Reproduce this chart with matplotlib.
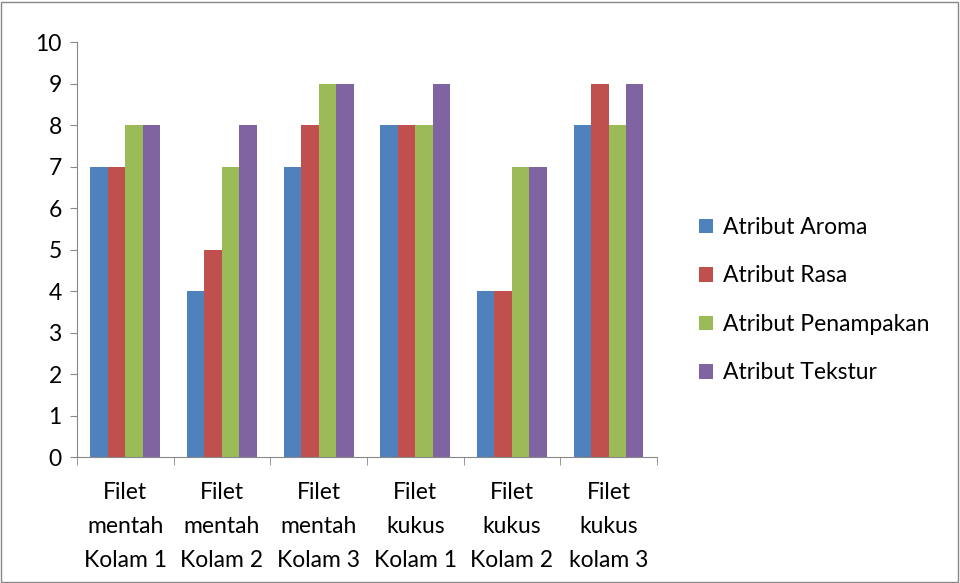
import numpy as np
from matplotlib import pyplot as plt
from matplotlib.patches import Rectangle

plt.rcParams['font.family'] = ['Lato', 'DejaVu Sans']

categories = ["Filet\nmentah\nKolam 1", "Filet\nmentah\nKolam 2", "Filet\nmentah\nKolam 3",
              "Filet\nkukus\nKolam 1", "Filet\nkukus\nKolam 2", "Filet\nkukus\nkolam 3"]
aroma = [7, 4, 7, 8, 4, 8]
rasa = [7, 5, 8, 8, 4, 9]
penampakan = [8, 7, 9, 8, 7, 8]
tekstur = [8, 8, 9, 9, 7, 9]

series = [("Atribut Aroma", aroma, "#4F81BD"),
          ("Atribut Rasa", rasa, "#C0504D"),
          ("Atribut Penampakan", penampakan, "#9BBB59"),
          ("Atribut Tekstur", tekstur, "#8064A2")]

fig = plt.figure(figsize=(9.6, 5.83), dpi=100)
fig.patches.append(Rectangle((0.001, 0.001), 0.997, 0.996, transform=fig.transFigure,
                             fill=False, edgecolor="#888888", linewidth=1))
ax = fig.add_axes([0.0802, 0.2161, 0.604, 0.7118])

x = np.arange(len(categories))
w = 0.181
for i, (name, vals, col) in enumerate(series):
    ax.bar(x + (i - 1.5) * w, vals, w, color=col, label=name, linewidth=0)

ax.set_xlim(-0.5, len(categories) - 0.5)
ax.set_ylim(0, 10)
ax.set_yticks(range(0, 11))
ax.tick_params(axis='y', labelsize=16.5, length=5, color="#888888", pad=6)
ax.set_xticks(x)
ax.set_xticklabels(categories, fontsize=16.5, linespacing=1.75)
ax.tick_params(axis='x', length=0, pad=18)
ax.set_xticks(np.arange(-0.5, len(categories)), minor=True)
ax.tick_params(axis='x', which='minor', length=6, color="#888888")
for s in ["top", "right"]:
    ax.spines[s].set_visible(False)
for s in ["left", "bottom"]:
    ax.spines[s].set_color("#888888")

ax.legend(loc="center left", bbox_to_anchor=(0.728, 0.485), bbox_transform=fig.transFigure,
          frameon=False, fontsize=16.5, borderaxespad=0, borderpad=0,
          handlelength=0.6, handleheight=0.6, handletextpad=0.45, labelspacing=1.2)

fig.savefig("out.png", dpi=100)
